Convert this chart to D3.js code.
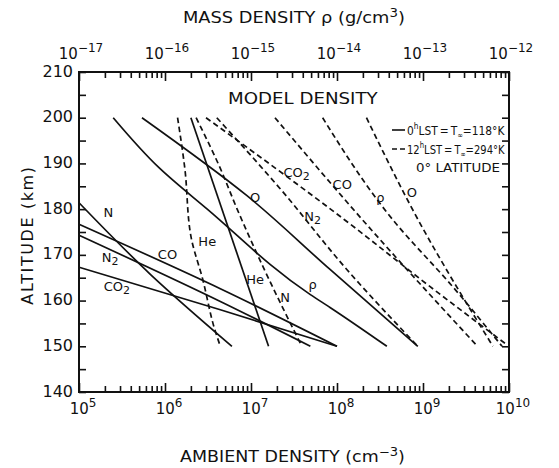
<!DOCTYPE html>
<html>
<head>
<meta charset="utf-8">
<script src="https://cdn.jsdelivr.net/npm/d3@7/dist/d3.min.js"></script>
<style>
  body { margin: 0; background: #fff; }
  text { font-family: "DejaVu Sans", "Liberation Sans", sans-serif; fill: #111; }
</style>
</head>
<body>
<svg id="chart" width="559" height="468"></svg>
<script>
// ---- axis tick values ----
const altTicks = [140, 150, 160, 170, 180, 190, 200, 210];
const ambientDecades = [5, 6, 7, 8, 9, 10];          // bottom axis, cm^-3
const massDecades = [-17, -16, -15, -14, -13, -12];   // top axis, g/cm^3

// ---- 0h LST (T∞ = 118°K): [density, altitude km] ----
const nightN   = [[1.0e5, 181.4], [6.8e5, 165.7], [6.0e6, 150]];
const nightHe  = [[2.0e6, 200], [1.6e7, 150]];
const nightO   = [[5.4e5, 200], [8.9e6, 183.0], [8.3e7, 166.8], [8.7e8, 150]];
const nightCO  = [[1.0e5, 176.7], [4.4e6, 162.6], [1.0e8, 150]];
const nightN2  = [[1.0e5, 174.3], [4.4e6, 159.8], [4.9e7, 150]];
const nightCO2 = [[1.0e5, 167.3], [4.4e6, 158.0], [1.0e8, 150]];
const nightRho = [[2.5e-17, 200], [8.7e-17, 188.9], [3.1e-16, 180], [4.9e-15, 161.3], [8.3e-15, 158.5], [3.8e-14, 150]];

// ---- 12h LST (T∞ = 294°K) ----
const dayHe  = [[1.4e6, 200], [1.7e6, 188.9], [2.0e6, 174.1], [2.75e6, 164.6], [3.8e6, 153.6], [4.4e6, 150]];
const dayN   = [[2.3e6, 200], [4.4e6, 188.9], [6.9e6, 180], [1.26e7, 169], [3.9e7, 150]];
const dayN2  = [[4.0e6, 200], [2.2e7, 184.4], [1.3e8, 166.8], [8.7e8, 150]];
const dayCO2 = [[3.0e6, 200], [1.2e8, 177.8], [1.2e9, 163.1], [9.5e9, 150.3]];
const dayCO  = [[1.9e7, 200], [1.95e8, 177.8], [4.3e9, 150]];
const dayO   = [[2.2e8, 200], [8.7e8, 177.8], [6.5e9, 150]];
const dayRho = [[6.8e-15, 200], [4.4e-14, 177.8], [2.2e-13, 163.1], [8.3e-13, 150]];

const series = [
  { pts: nightN,   mass: false, dashed: false },
  { pts: nightHe,  mass: false, dashed: false },
  { pts: nightO,   mass: false, dashed: false },
  { pts: nightCO,  mass: false, dashed: false },
  { pts: nightN2,  mass: false, dashed: false },
  { pts: nightCO2, mass: false, dashed: false },
  { pts: nightRho, mass: true,  dashed: false },
  { pts: dayHe,  mass: false, dashed: true },
  { pts: dayN,   mass: false, dashed: true },
  { pts: dayN2,  mass: false, dashed: true },
  { pts: dayCO2, mass: false, dashed: true },
  { pts: dayCO,  mass: false, dashed: true },
  { pts: dayO,   mass: false, dashed: true },
  { pts: dayRho, mass: true,  dashed: true }
];

// curve labels: text, subscript, density (cm^-3), altitude
const curveLabels = [
  ["N", "", 2.2e5, 179.2], ["CO", "", 1.07e6, 170.0], ["N", "2", 2.3e5, 169.3],
  ["CO", "2", 2.75e5, 163.0], ["He", "", 3.1e6, 172.8], ["He", "", 1.12e7, 164.5],
  ["N", "", 2.5e7, 160.6], ["O", "", 1.12e7, 182.4], ["\u03C1", "", 5.2e7, 163.4],
  ["CO", "2", 3.4e7, 187.9], ["N", "2", 5.2e7, 178.3], ["CO", "", 1.15e8, 185.3],
  ["\u03C1", "", 3.2e8, 182.4], ["O", "", 7.4e8, 183.5]
];

const svg = d3.select("#chart");
const padL = 79, padR = 509, padT = 72, padB = 392;

const x = d3.scaleLog().domain([1e5, 1e10]).range([padL, padR]);
const xMass = d3.scaleLog().domain([1e-17, 1e-12]).range([padL, padR]);
const y = d3.scaleLinear().domain([140, 210]).range([padB, padT]);

// stretch a text element horizontally so it spans [x0, x1]
function fitSpan(sel, x0, x1) {
  const node = sel.node();
  const b = node.getBBox();
  const k = (x1 - x0) / b.width;
  sel.attr("transform", `translate(${x0},0) scale(${k},1) translate(${-b.x},0)`);
}

// ---- data curves ----
const g = svg.append("g");
series.forEach(s => {
  const sx = s.mass ? xMass : x;
  const line = d3.line()
    .x(d => sx(d[0]))
    .y(d => y(d[1]))
    .curve(d3.curveMonotoneY);
  g.append("path")
    .attr("d", line(s.pts))
    .attr("fill", "none")
    .attr("stroke", "#111")
    .attr("stroke-width", 1.7)
    .attr("stroke-dasharray", s.dashed ? "5.5,3.5" : null);
});

// ---- curve labels ----
curveLabels.forEach(([t, sub, v, a]) => {
  const tx = svg.append("text")
    .attr("x", x(v)).attr("y", y(a))
    .attr("text-anchor", "middle")
    .attr("dominant-baseline", "middle")
    .attr("font-size", 13);
  tx.append("tspan").text(t);
  if (sub) tx.append("tspan").attr("font-size", 11).attr("dy", 4).text(sub);
});

// ---- frame ----
svg.append("rect")
  .attr("x", padL).attr("y", padT)
  .attr("width", padR - padL).attr("height", padB - padT)
  .attr("fill", "none").attr("stroke", "#111").attr("stroke-width", 2);

const styleTicks = a => {
  a.select(".domain").remove();
  a.selectAll("line").attr("stroke", "#111").attr("stroke-width", 1.6);
};

// ---- bottom axis (ambient density) ----
svg.append("g").attr("transform", `translate(0,${padB})`)
  .call(d3.axisTop(x)
    .tickValues(d3.range(5, 10).flatMap(e => d3.range(2, 10).map(m => m * Math.pow(10, e))))
    .tickSize(6).tickFormat(""))
  .call(styleTicks);
svg.append("g").attr("transform", `translate(0,${padB})`)
  .call(d3.axisTop(x).tickValues(ambientDecades.map(e => Math.pow(10, e))).tickSize(9).tickFormat(""))
  .call(styleTicks);

ambientDecades.forEach(e => {
  const t = svg.append("text")
    .attr("x", x(Math.pow(10, e)) + 4).attr("y", padB + 22)
    .attr("text-anchor", "middle").attr("font-size", 15);
  t.append("tspan").text("10");
  t.append("tspan").attr("font-size", 12).attr("dy", -7).text(String(e));
});

// ---- top axis (mass density) ----
svg.append("g").attr("transform", `translate(0,${padT})`)
  .call(d3.axisBottom(xMass)
    .tickValues(d3.range(-17, -12).flatMap(e => d3.range(2, 10).map(m => m * Math.pow(10, e))))
    .tickSize(6).tickFormat(""))
  .call(styleTicks);
svg.append("g").attr("transform", `translate(0,${padT})`)
  .call(d3.axisBottom(xMass).tickValues(massDecades.map(e => Math.pow(10, e))).tickSize(9).tickFormat(""))
  .call(styleTicks);

massDecades.forEach(e => {
  const t = svg.append("text")
    .attr("x", xMass(Math.pow(10, e)) + 2).attr("y", padT - 13)
    .attr("text-anchor", "middle").attr("font-size", 15);
  t.append("tspan").text("10");
  t.append("tspan").attr("font-size", 12).attr("dy", -7).text("\u2212" + String(-e));
});

// ---- altitude axes (left labels, ticks on both sides) ----
const altMinor = d3.range(140, 211, 5);
svg.append("g").attr("transform", `translate(${padL},0)`)
  .call(d3.axisRight(y).tickValues(altMinor).tickSize(7).tickFormat(""))
  .call(styleTicks);
svg.append("g").attr("transform", `translate(${padR},0)`)
  .call(d3.axisLeft(y).tickValues(altMinor).tickSize(7).tickFormat(""))
  .call(styleTicks);

altTicks.forEach(v => {
  svg.append("text")
    .attr("x", padL - 6).attr("y", y(v))
    .attr("text-anchor", "end").attr("dominant-baseline", "middle")
    .attr("font-size", 16).text(v);
});

// ---- titles ----
const massTitle = svg.append("text")
  .attr("x", 0).attr("y", 23).attr("font-size", 16)
  .call(t => {
    t.append("tspan").text("MASS DENSITY \u03C1 (g/cm");
    t.append("tspan").attr("font-size", 12).attr("dy", -6).text("3");
    t.append("tspan").attr("dy", 6).text(")");
  });
fitSpan(massTitle, 183, 405);

const ambTitle = svg.append("text")
  .attr("x", 0).attr("y", 462).attr("font-size", 16)
  .call(t => {
    t.append("tspan").text("AMBIENT DENSITY (cm");
    t.append("tspan").attr("font-size", 12).attr("dy", -6).text("\u22123");
    t.append("tspan").attr("dy", 6).text(")");
  });
fitSpan(ambTitle, 180, 405);

svg.append("text")
  .attr("transform", `translate(33,${(padT + padB) / 2 + 3}) rotate(-90)`)
  .attr("text-anchor", "middle").attr("font-size", 16)
  .attr("letter-spacing", 1.6)
  .text("ALTITUDE (km)");

const modelTitle = svg.append("text")
  .attr("x", 0).attr("y", 104).attr("font-size", 16)
  .text("MODEL DENSITY");
fitSpan(modelTitle, 228, 378);

// ---- legend ----
const legendRows = [
  { dashed: false, hour: "0", temp: "118", ly: 135 },
  { dashed: true, hour: "12", temp: "294", ly: 154 }
];
legendRows.forEach(r => {
  svg.append("line")
    .attr("x1", 392).attr("x2", 405).attr("y1", r.ly - 5).attr("y2", r.ly - 5)
    .attr("stroke", "#111").attr("stroke-width", 1.6)
    .attr("stroke-dasharray", r.dashed ? "5,3" : null);
  const t = svg.append("text").attr("x", 0).attr("y", r.ly).attr("font-size", 13);
  t.append("tspan").text(r.hour);
  t.append("tspan").attr("font-size", 9).attr("dy", -6).text("h");
  t.append("tspan").attr("dy", 6).text("LST\u2009=\u2009T");
  t.append("tspan").attr("font-size", 8).attr("dy", 3).text("\u221E");
  t.append("tspan").attr("dy", -3).text("=" + r.temp + "\u00B0K");
  fitSpan(t, 407, 505);
});
const lat = svg.append("text").attr("x", 0).attr("y", 172).attr("font-size", 13).text("0\u00B0 LATITUDE");
fitSpan(lat, 416, 500);
</script>
</body>
</html>
